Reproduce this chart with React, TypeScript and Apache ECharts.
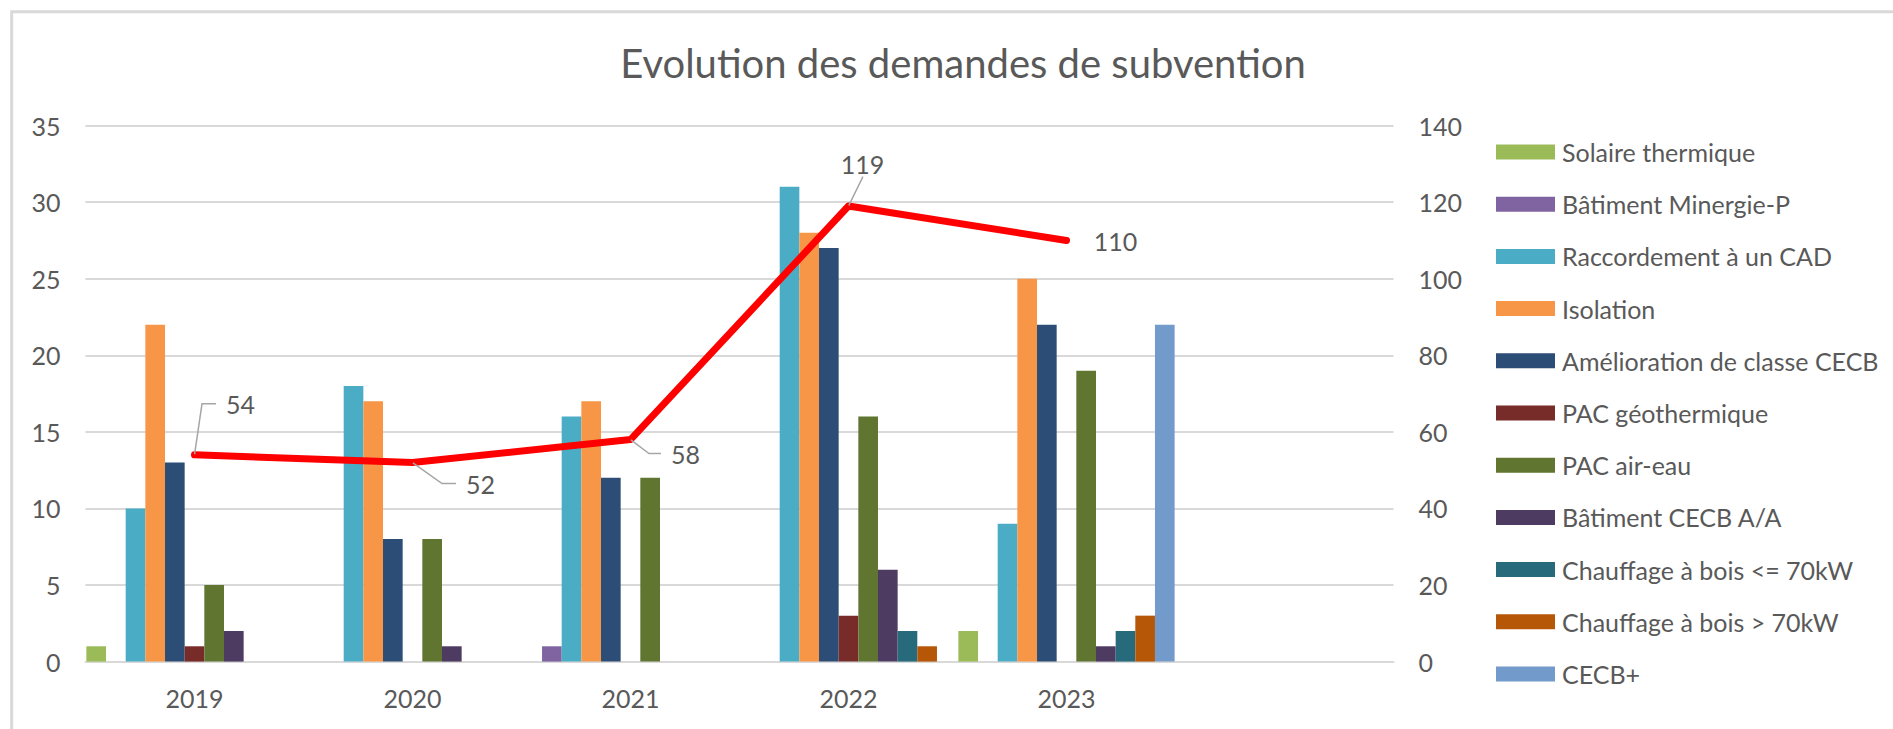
import React, { useEffect, useRef } from "react";
import * as echarts from "echarts";

// ---- data ----
const years = ["2019", "2020", "2021", "2022", "2023", ""];

const solaireThermique = [1, 0, 0, 0, 2];
const batimentMinergieP = [0, 0, 1, 0, 0];
const raccordementCAD = [10, 18, 16, 31, 9];
const isolation = [22, 17, 17, 28, 25];
const ameliorationCECB = [13, 8, 12, 27, 22];
const pacGeothermique = [1, 0, 0, 3, 0];
const pacAirEau = [5, 8, 12, 16, 19];
const batimentCECBAA = [2, 1, 0, 6, 1];
const boisPetit = [0, 0, 0, 2, 2];
const boisGrand = [0, 0, 0, 1, 3];
const cecbPlus = [0, 0, 0, 0, 22];

const totalDemandes = [54, 52, 58, 119, 110];

const leftAxisMax = 35;
const leftAxisStep = 5;
const rightAxisMax = 140;
const rightAxisStep = 20;

const barSeries = [
  { name: "Solaire thermique", data: solaireThermique, color: "#9BBB59" },
  { name: "Bâtiment Minergie-P", data: batimentMinergieP, color: "#8064A2" },
  { name: "Raccordement à un CAD", data: raccordementCAD, color: "#4BACC6" },
  { name: "Isolation", data: isolation, color: "#F79646" },
  { name: "Amélioration de classe CECB", data: ameliorationCECB, color: "#2C4D75" },
  { name: "PAC géothermique", data: pacGeothermique, color: "#772C2A" },
  { name: "PAC air-eau", data: pacAirEau, color: "#5F7530" },
  { name: "Bâtiment CECB A/A", data: batimentCECBAA, color: "#4D3B62" },
  { name: "Chauffage à bois <= 70kW", data: boisPetit, color: "#276A7C" },
  { name: "Chauffage à bois > 70kW", data: boisGrand, color: "#B65708" },
  { name: "CECB+", data: cecbPlus, color: "#729ACA" },
];

// label displacement (pixels) of each total label relative to its point
const labelShift = [
  [46, -51],
  [68, 21],
  [55, 14],
  [14, -42],
  [49, 1],
];
// leader line: second segment length for each label (-1 = no leader)
const leaderLen = [14, 14, 12, 1, -1];

const FONT = "Lato";
const TEXT = "#595959";
const GRID = "#D9D9D9";
const FS = 25;

export default function App() {
  const ref = useRef<HTMLDivElement>(null);

  useEffect(() => {
    document.body.style.margin = "0";
    if (!ref.current) return;
    const chart = echarts.init(ref.current, undefined, { renderer: "svg" });

    const series: any[] = barSeries.map((s) => ({
      name: s.name,
      type: "bar",
      data: s.data,
      barGap: "0%",
      barCategoryGap: "0.8%",
      itemStyle: { color: s.color },
      yAxisIndex: 0,
      z: 2,
    }));

    series.push({
      name: "Total",
      type: "line",
      yAxisIndex: 1,
      data: totalDemandes.map((v, i) =>
        leaderLen[i] < 0
          ? { value: v, labelLine: { show: false } }
          : { value: v, labelLine: { show: true, length2: leaderLen[i] } }
      ),
      symbol: "circle",
      symbolSize: 1,
      showSymbol: true,
      itemStyle: { color: "#FF0000" },
      lineStyle: { color: "#FF0000", width: 7, cap: "round", join: "round" },
      z: 5,
      label: {
        show: true,
        position: "inside",
        color: TEXT,
        fontFamily: FONT,
        fontSize: FS,
        lineHeight: 18,
        padding: [0, 10],
      },
      labelLine: {
        show: true,
        length2: 14,
        lineStyle: { color: "#A6A6A6", width: 1.5 },
      },
      labelLayout: (p: any) => {
        const d = labelShift[p.dataIndex] || [0, 0];
        return { dx: d[0], dy: d[1] };
      },
    });

    chart.setOption({
      animation: false,
      backgroundColor: "#FFFFFF",
      textStyle: { fontFamily: FONT },
      title: {
        text: "Evolution des demandes de subvention",
        left: 963,
        top: 42,
        padding: 0,
        textAlign: "center",
        textStyle: {
          fontFamily: FONT,
          fontSize: 40,
          fontWeight: "normal",
          color: TEXT,
          lineHeight: 42,
        },
      },
      graphic: [
        {
          type: "rect",
          shape: { x: 11.7, y: 11.7, width: 1950, height: 800 },
          style: { fill: "none", stroke: GRID, lineWidth: 3 },
          silent: true,
          z: -1,
        },
      ],
      grid: { left: 85.5, right: 499.5, top: 125.6, bottom: 67.4, containLabel: false },
      legend: {
        orient: "vertical",
        left: 1496,
        top: 137,
        padding: 0,
        itemWidth: 59,
        itemHeight: 15,
        itemGap: 22.2,
        icon: "rect",
        data: barSeries.map((s) => s.name),
        textStyle: {
          fontFamily: FONT,
          fontSize: FS,
          color: TEXT,
          lineHeight: 30,
          padding: [0, 0, 0, 2],
        },
      },
      xAxis: {
        type: "category",
        data: years,
        axisLine: { show: true, lineStyle: { color: GRID, width: 2 } },
        axisTick: { show: false },
        axisLabel: {
          color: TEXT,
          fontFamily: FONT,
          fontSize: FS,
          lineHeight: 26,
          margin: 23,
        },
        splitLine: { show: false },
      },
      yAxis: [
        {
          type: "value",
          min: 0,
          max: leftAxisMax,
          interval: leftAxisStep,
          axisLine: { show: false },
          axisTick: { show: false },
          axisLabel: { color: TEXT, fontFamily: FONT, fontSize: FS, margin: 25 },
          splitLine: { show: true, lineStyle: { color: GRID, width: 2 } },
        },
        {
          type: "value",
          min: 0,
          max: rightAxisMax,
          interval: rightAxisStep,
          position: "right",
          axisLine: { show: false },
          axisTick: { show: false },
          axisLabel: { color: TEXT, fontFamily: FONT, fontSize: FS, margin: 25 },
          splitLine: { show: false },
        },
      ],
      series,
    });

    return () => chart.dispose();
  }, []);

  return <div ref={ref} style={{ width: 1893, height: 729 }} />;
}
